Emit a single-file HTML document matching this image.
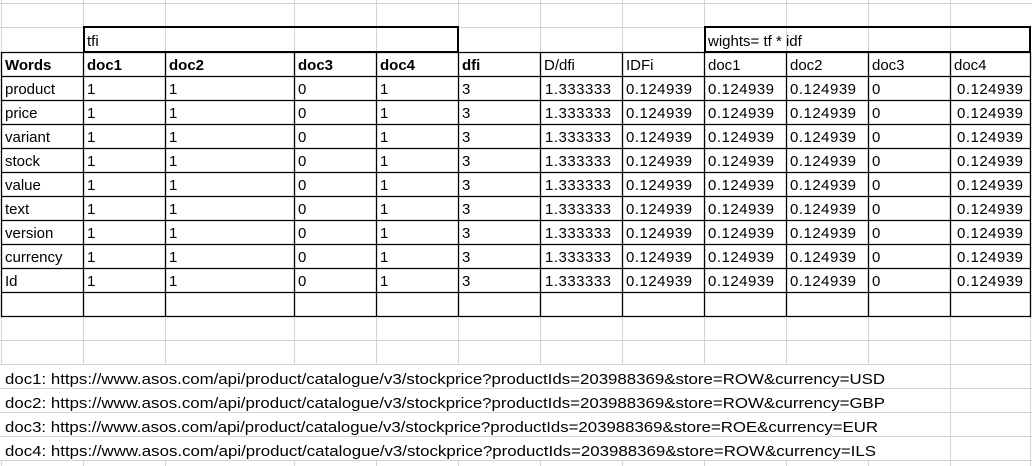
<!DOCTYPE html>
<html><head><meta charset="utf-8"><style>
html,body{margin:0;padding:0;background:#fff;width:1032px;height:466px;overflow:hidden}
svg{display:block}
text{font-family:"Liberation Sans",sans-serif;font-size:15px;fill:#000}
.b{font-weight:bold}
</style></head><body>
<svg width="1032" height="466" xmlns="http://www.w3.org/2000/svg">
<g stroke="#d4d4d4" stroke-width="1">
<line x1="0" y1="3.5" x2="1032" y2="3.5"/><line x1="0" y1="27.5" x2="1032" y2="27.5"/>
<line x1="0" y1="340.5" x2="1032" y2="340.5"/><line x1="0" y1="364.5" x2="1032" y2="364.5"/>
<line x1="0" y1="388.5" x2="1032" y2="388.5"/><line x1="0" y1="412.5" x2="1032" y2="412.5"/>
<line x1="0" y1="436.5" x2="1032" y2="436.5"/><line x1="0" y1="460.5" x2="1032" y2="460.5"/>
<!-- verticals top -->
<line x1="1.5" y1="0" x2="1.5" y2="52"/><line x1="83.5" y1="0" x2="83.5" y2="52"/><line x1="165.5" y1="0" x2="165.5" y2="52"/><line x1="294.5" y1="0" x2="294.5" y2="52"/><line x1="376.5" y1="0" x2="376.5" y2="52"/><line x1="458.5" y1="0" x2="458.5" y2="52"/><line x1="540.5" y1="0" x2="540.5" y2="52"/><line x1="622.5" y1="0" x2="622.5" y2="52"/><line x1="704.5" y1="0" x2="704.5" y2="52"/><line x1="786.5" y1="0" x2="786.5" y2="52"/><line x1="868.5" y1="0" x2="868.5" y2="52"/><line x1="950.5" y1="0" x2="950.5" y2="52"/>
<!-- verticals mid (316-365) -->
<line x1="1.5" y1="316" x2="1.5" y2="365"/><line x1="83.5" y1="316" x2="83.5" y2="365"/><line x1="165.5" y1="316" x2="165.5" y2="365"/><line x1="294.5" y1="316" x2="294.5" y2="365"/><line x1="376.5" y1="316" x2="376.5" y2="365"/><line x1="458.5" y1="316" x2="458.5" y2="365"/><line x1="540.5" y1="316" x2="540.5" y2="365"/><line x1="622.5" y1="316" x2="622.5" y2="365"/><line x1="704.5" y1="316" x2="704.5" y2="365"/><line x1="786.5" y1="316" x2="786.5" y2="365"/><line x1="868.5" y1="316" x2="868.5" y2="365"/><line x1="950.5" y1="316" x2="950.5" y2="466"/><line x1="1030.5" y1="316" x2="1030.5" y2="466"/>
<line x1="1.5" y1="460" x2="1.5" y2="466"/><line x1="83.5" y1="460" x2="83.5" y2="466"/><line x1="165.5" y1="460" x2="165.5" y2="466"/><line x1="294.5" y1="460" x2="294.5" y2="466"/><line x1="376.5" y1="460" x2="376.5" y2="466"/><line x1="458.5" y1="460" x2="458.5" y2="466"/><line x1="540.5" y1="460" x2="540.5" y2="466"/><line x1="622.5" y1="460" x2="622.5" y2="466"/><line x1="704.5" y1="460" x2="704.5" y2="466"/><line x1="786.5" y1="460" x2="786.5" y2="466"/><line x1="868.5" y1="460" x2="868.5" y2="466"/>
</g>
<g stroke="#000" stroke-width="1.3">
<line x1="1" y1="52.5" x2="1031" y2="52.5"/><line x1="1" y1="76.5" x2="1031" y2="76.5"/><line x1="1" y1="100.5" x2="1031" y2="100.5"/><line x1="1" y1="124.5" x2="1031" y2="124.5"/><line x1="1" y1="148.5" x2="1031" y2="148.5"/><line x1="1" y1="172.5" x2="1031" y2="172.5"/><line x1="1" y1="196.5" x2="1031" y2="196.5"/><line x1="1" y1="220.5" x2="1031" y2="220.5"/><line x1="1" y1="244.5" x2="1031" y2="244.5"/><line x1="1" y1="268.5" x2="1031" y2="268.5"/><line x1="1" y1="292.5" x2="1031" y2="292.5"/><line x1="1" y1="316.5" x2="1031" y2="316.5"/>
<line x1="1.5" y1="52" x2="1.5" y2="317"/><line x1="83.5" y1="52" x2="83.5" y2="317"/><line x1="165.5" y1="52" x2="165.5" y2="317"/><line x1="294.5" y1="52" x2="294.5" y2="317"/><line x1="376.5" y1="52" x2="376.5" y2="317"/><line x1="458.5" y1="52" x2="458.5" y2="317"/><line x1="540.5" y1="52" x2="540.5" y2="317"/><line x1="622.5" y1="52" x2="622.5" y2="317"/><line x1="704.5" y1="52" x2="704.5" y2="317"/><line x1="786.5" y1="52" x2="786.5" y2="317"/><line x1="868.5" y1="52" x2="868.5" y2="317"/><line x1="950.5" y1="52" x2="950.5" y2="317"/><line x1="1030.5" y1="52" x2="1030.5" y2="317"/>
</g>
<g stroke="#000" stroke-width="2" fill="none">
<rect x="84" y="27" width="374" height="25"/>
<rect x="705" y="27" width="325" height="25"/>
</g>
<line x1="950.5" y1="28" x2="950.5" y2="51" stroke="#d4d4d4"/>
<text x="87" y="46">tfi</text>
<text x="708" y="46">wights= tf * idf</text>
<g class="b">
<text x="5" y="70" class="b">Words</text><text x="87" y="70" class="b">doc1</text><text x="169" y="70" class="b">doc2</text><text x="298" y="70" class="b">doc3</text><text x="380" y="70" class="b">doc4</text><text x="462" y="70" class="b">dfi</text>
</g>
<text x="544" y="70">D/dfi</text><text x="626" y="70">IDFi</text><text x="708" y="70">doc1</text><text x="790" y="70">doc2</text><text x="872" y="70">doc3</text><text x="954" y="70">doc4</text>
<g id="rows"></g>
<text x="5" y="384" textLength="880" lengthAdjust="spacingAndGlyphs">doc1: https://www.asos.com/api/product/catalogue/v3/stockprice?productIds=203988369&amp;store=ROW&amp;currency=USD</text>
<text x="5" y="408" textLength="880" lengthAdjust="spacingAndGlyphs">doc2: https://www.asos.com/api/product/catalogue/v3/stockprice?productIds=203988369&amp;store=ROW&amp;currency=GBP</text>
<text x="5" y="432" textLength="873" lengthAdjust="spacingAndGlyphs">doc3: https://www.asos.com/api/product/catalogue/v3/stockprice?productIds=203988369&amp;store=ROE&amp;currency=EUR</text>
<text x="5" y="456" textLength="871" lengthAdjust="spacingAndGlyphs">doc4: https://www.asos.com/api/product/catalogue/v3/stockprice?productIds=203988369&amp;store=ROW&amp;currency=ILS</text>
<g>
<text x="5" y="94">product</text><text x="5" y="118">price</text><text x="5" y="142">variant</text><text x="5" y="166">stock</text><text x="5" y="190">value</text><text x="5" y="214">text</text><text x="5" y="238">version</text><text x="5" y="262">currency</text><text x="5" y="286">Id</text>
</g>
<g>
<text x="87" y="94">1</text><text x="169" y="94">1</text><text x="298" y="94">0</text><text x="380" y="94">1</text><text x="462" y="94">3</text><text x="545" y="94" textLength="66">1.333333</text><text x="626" y="94" textLength="66">0.124939</text><text x="708" y="94" textLength="66">0.124939</text><text x="790" y="94" textLength="66">0.124939</text><text x="872" y="94">0</text><text x="957" y="94" textLength="66">0.124939</text>
<text x="87" y="118">1</text><text x="169" y="118">1</text><text x="298" y="118">0</text><text x="380" y="118">1</text><text x="462" y="118">3</text><text x="545" y="118" textLength="66">1.333333</text><text x="626" y="118" textLength="66">0.124939</text><text x="708" y="118" textLength="66">0.124939</text><text x="790" y="118" textLength="66">0.124939</text><text x="872" y="118">0</text><text x="957" y="118" textLength="66">0.124939</text>
<text x="87" y="142">1</text><text x="169" y="142">1</text><text x="298" y="142">0</text><text x="380" y="142">1</text><text x="462" y="142">3</text><text x="545" y="142" textLength="66">1.333333</text><text x="626" y="142" textLength="66">0.124939</text><text x="708" y="142" textLength="66">0.124939</text><text x="790" y="142" textLength="66">0.124939</text><text x="872" y="142">0</text><text x="957" y="142" textLength="66">0.124939</text>
<text x="87" y="166">1</text><text x="169" y="166">1</text><text x="298" y="166">0</text><text x="380" y="166">1</text><text x="462" y="166">3</text><text x="545" y="166" textLength="66">1.333333</text><text x="626" y="166" textLength="66">0.124939</text><text x="708" y="166" textLength="66">0.124939</text><text x="790" y="166" textLength="66">0.124939</text><text x="872" y="166">0</text><text x="957" y="166" textLength="66">0.124939</text>
<text x="87" y="190">1</text><text x="169" y="190">1</text><text x="298" y="190">0</text><text x="380" y="190">1</text><text x="462" y="190">3</text><text x="545" y="190" textLength="66">1.333333</text><text x="626" y="190" textLength="66">0.124939</text><text x="708" y="190" textLength="66">0.124939</text><text x="790" y="190" textLength="66">0.124939</text><text x="872" y="190">0</text><text x="957" y="190" textLength="66">0.124939</text>
<text x="87" y="214">1</text><text x="169" y="214">1</text><text x="298" y="214">0</text><text x="380" y="214">1</text><text x="462" y="214">3</text><text x="545" y="214" textLength="66">1.333333</text><text x="626" y="214" textLength="66">0.124939</text><text x="708" y="214" textLength="66">0.124939</text><text x="790" y="214" textLength="66">0.124939</text><text x="872" y="214">0</text><text x="957" y="214" textLength="66">0.124939</text>
<text x="87" y="238">1</text><text x="169" y="238">1</text><text x="298" y="238">0</text><text x="380" y="238">1</text><text x="462" y="238">3</text><text x="545" y="238" textLength="66">1.333333</text><text x="626" y="238" textLength="66">0.124939</text><text x="708" y="238" textLength="66">0.124939</text><text x="790" y="238" textLength="66">0.124939</text><text x="872" y="238">0</text><text x="957" y="238" textLength="66">0.124939</text>
<text x="87" y="262">1</text><text x="169" y="262">1</text><text x="298" y="262">0</text><text x="380" y="262">1</text><text x="462" y="262">3</text><text x="545" y="262" textLength="66">1.333333</text><text x="626" y="262" textLength="66">0.124939</text><text x="708" y="262" textLength="66">0.124939</text><text x="790" y="262" textLength="66">0.124939</text><text x="872" y="262">0</text><text x="957" y="262" textLength="66">0.124939</text>
<text x="87" y="286">1</text><text x="169" y="286">1</text><text x="298" y="286">0</text><text x="380" y="286">1</text><text x="462" y="286">3</text><text x="545" y="286" textLength="66">1.333333</text><text x="626" y="286" textLength="66">0.124939</text><text x="708" y="286" textLength="66">0.124939</text><text x="790" y="286" textLength="66">0.124939</text><text x="872" y="286">0</text><text x="957" y="286" textLength="66">0.124939</text>
</g>
</svg>
</body></html>
